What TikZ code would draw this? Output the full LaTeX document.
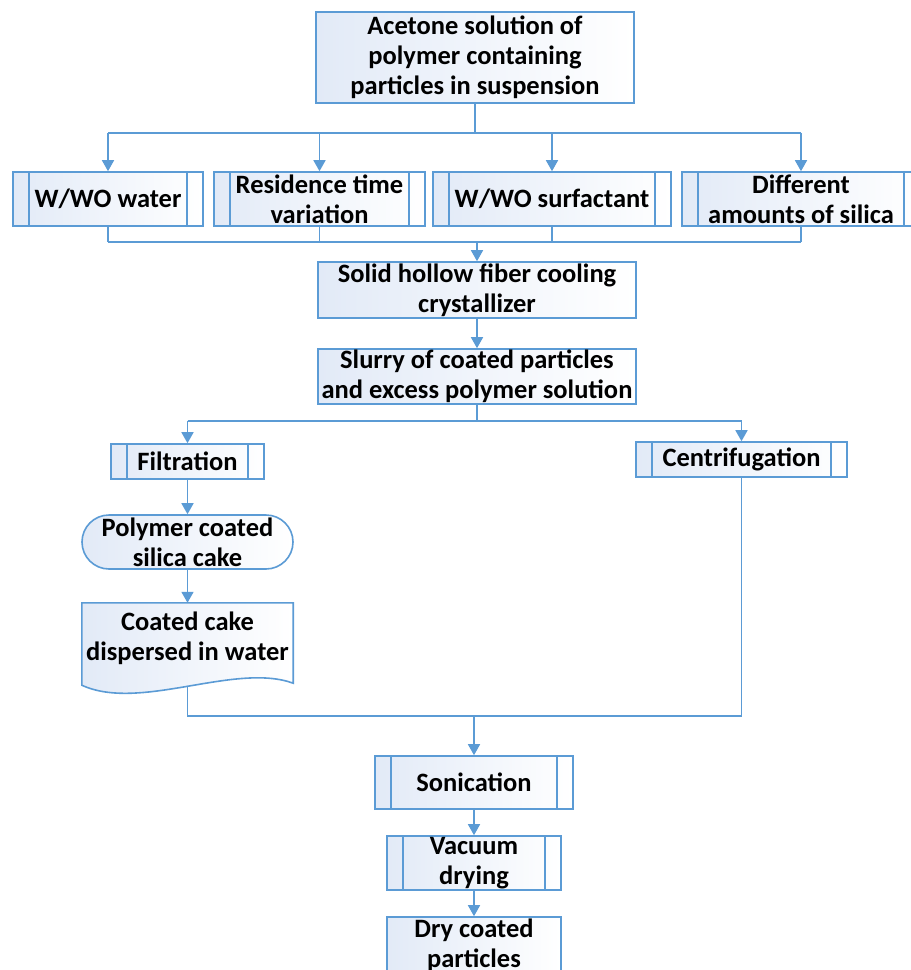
\documentclass[tikz,border=0pt]{standalone}
\usepackage{fontspec}
\setmainfont{Carlito}
\usetikzlibrary{arrows.meta,backgrounds}
\definecolor{flowblue}{RGB}{91,155,213}
\definecolor{boxshade}{RGB}{226,234,247}
\tikzset{
  box/.style={draw=flowblue, line width=1.6pt, left color=boxshade, right color=white,
    align=center, inner sep=1pt, font=\bfseries\fontsize{26.5}{30}\selectfont},
  predef/.style={box, path picture={
    \draw[flowblue, line width=1.6pt]
      ([xshift=16pt]path picture bounding box.north west) -- ([xshift=16pt]path picture bounding box.south west)
      ([xshift=-16pt]path picture bounding box.north east) -- ([xshift=-16pt]path picture bounding box.south east);}},
  link/.style={draw=flowblue, line width=1.6pt},
  arr/.style={link, -{Triangle[width=12pt,length=11pt]}},
}
\begin{document}
\begin{tikzpicture}[x=1pt, y=-1pt]
\useasboundingbox (0,0) rectangle (911,970);
\clip (0,0) rectangle (911,970);
\node[box, minimum width=318pt, minimum height=91pt] (acetone) at (475,57.5) {Acetone solution of\\polymer containing\\particles in suspension};
\node[predef, minimum width=190pt, minimum height=54pt] (water) at (108,199) {W/WO water};
\node[predef, minimum width=211pt, minimum height=54pt] (residence) at (319.5,199) {Residence time\\variation};
\node[predef, minimum width=238pt, minimum height=54pt] (surfactant) at (552,199) {W/WO surfactant};
\node[predef, minimum width=238pt, minimum height=54pt] (silica) at (801,199) {Different\\amounts of silica};
\node[box, minimum width=318pt, minimum height=56pt] (cooler) at (477,290) {Solid hollow fiber cooling\\crystallizer};
\node[box, minimum width=318pt, minimum height=55pt] (slurry) at (477,376.5) {Slurry of coated particles\\and excess polymer solution};
\node[predef, minimum width=153pt, minimum height=35pt] (filtration) at (187.5,461.5) {Filtration};
\node[predef, minimum width=211pt, minimum height=35pt] (centrif) at (741.5,459.5) {Centrifugation};
\node[box, rounded corners=27pt, minimum width=211pt, minimum height=54pt] (cake) at (187.5,542) {Polymer coated\\silica cake};
\node[align=center, font=\bfseries\fontsize{26.5}{30}\selectfont, minimum width=211pt, minimum height=70pt] (doc) at (187.5,638) {Coated cake\\dispersed in water};
\begin{scope}[on background layer]
\draw[box] (doc.north west) -- (doc.north east) -- ([yshift=-10pt]doc.south east)
  .. controls (235,662) and (140,712) .. ([yshift=-12pt]doc.south west) -- cycle;
\end{scope}
\node[predef, minimum width=198pt, minimum height=53pt] (sonication) at (474,782.5) {Sonication};
\node[predef, minimum width=174pt, minimum height=54pt] (vacuum) at (474,863) {Vacuum\\drying};
\node[box, minimum width=174pt, minimum height=56pt] (dry) at (474,945) {Dry coated\\particles};

\draw[link] (acetone.south) -- ++(0,29) coordinate (split1);
\draw[link] (water.north |- split1) -- (silica.north |- split1);
\foreach \n in {water,residence,surfactant,silica}
  \draw[arr] (\n.north |- split1) -- (\n.north);
\coordinate (join1) at (475,242);
\foreach \n in {water,residence,surfactant,silica}
  \draw[link] (\n.south) -- (\n.south |- join1);
\draw[link] (water.south |- join1) -- (silica.south |- join1);
\draw[arr] (cooler.north |- join1) -- (cooler.north);
\draw[arr] (cooler) -- (slurry);
\draw[link] (slurry.south) -- ++(0,16) coordinate (split2);
\draw[link] (filtration.north |- split2) -- (centrif.north |- split2);
\draw[arr] (filtration.north |- split2) -- (filtration.north);
\draw[arr] (centrif.north |- split2) -- (centrif.north);
\draw[arr] (filtration) -- (cake);
\draw[arr] (cake) -- (doc.north);
\coordinate (merge) at (474,716);
\draw[link] ([yshift=-14pt]doc.south) |- (centrif.south |- merge) -- (centrif.south);
\draw[arr] (merge) -- (sonication);
\draw[arr] (sonication) -- (vacuum);
\draw[arr] (vacuum) -- (dry);
\end{tikzpicture}
\end{document}
